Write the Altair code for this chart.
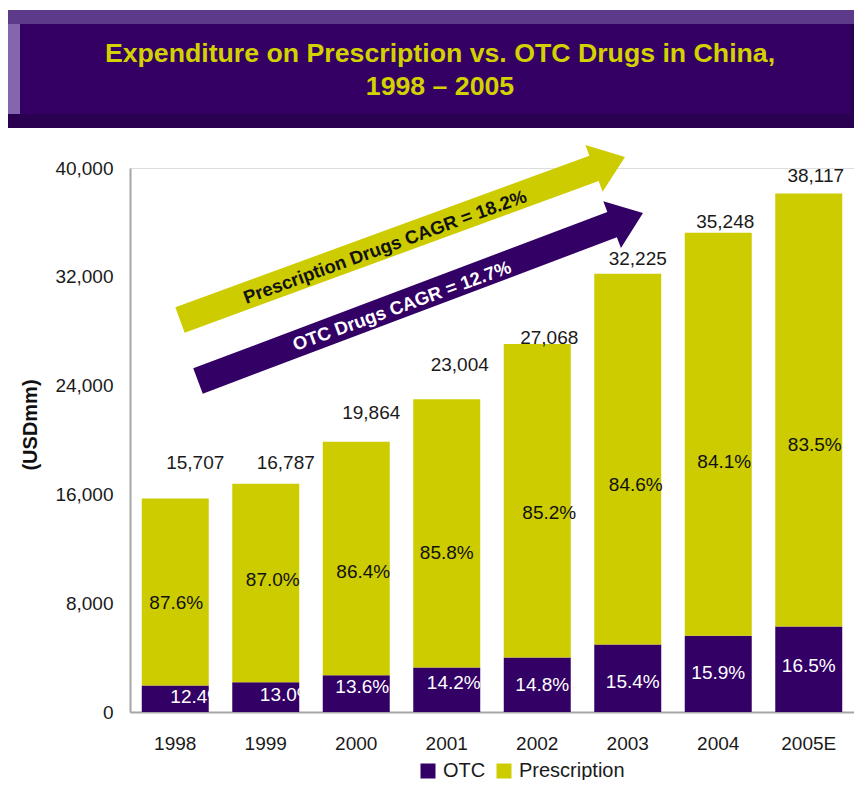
import altair as alt
import pandas as pd
import math

# ---------------- data ----------------
years = ["1998", "1999", "2000", "2001", "2002", "2003", "2004", "2005E"]
totals = [15707, 16787, 19864, 23004, 27068, 32225, 35248, 38117]
otc_share = [12.4, 13.0, 13.6, 14.2, 14.8, 15.4, 15.9, 16.5]
presc_share = [87.6, 87.0, 86.4, 85.8, 85.2, 84.6, 84.1, 83.5]
series_names = ["OTC", "Prescription"]
y_ticks = [0, 8000, 16000, 24000, 32000, 40000]
title_lines = ["Expenditure on Prescription vs. OTC Drugs in China,", "1998 \u2013 2005"]
arrow_texts = ["Prescription Drugs CAGR = 18.2%", "OTC Drugs CAGR = 12.7%"]

# ---------------- style (label nudges in px) ----------------
total_dx = [20, 20, 15, 13, 12, 10, 7, 7]
total_dy = [-35, -21, -29, -34, -6, -15, -11, -18]
presc_dx = [1, 7, 7, 0, 12, 8, 6, 6]
presc_dy = [11, -3, 13, 20, 12, 26, 28, 35]
otc_dx = [22, 21, 6, 7, 5, 5, 0, 0]
otc_dy = [-2, -2, -7, -7, 0, 4, -1, -3]

PURPLE = "#330066"
YELLOW = "#CCCC00"
FONT = "Liberation Sans, Arial, sans-serif"
W, H = 724, 544

otc_vals = [t * s / 100 for t, s in zip(totals, otc_share)]
presc_vals = [t - o for t, o in zip(totals, otc_vals)]

bars = pd.DataFrame(
    [{"year": y, "series": "OTC", "value": o, "order": 0} for y, o in zip(years, otc_vals)]
    + [{"year": y, "series": "Prescription", "value": p, "order": 1} for y, p in zip(years, presc_vals)]
)
labels = pd.DataFrame({
    "year": years,
    "total": totals,
    "otc_mid": [o / 2 for o in otc_vals],
    "presc_mid": [o + p / 2 for o, p in zip(otc_vals, presc_vals)],
    "total_label": [f"{t:,}" for t in totals],
    "otc_label": [f"{s:.1f}%" for s in otc_share],
    "presc_label": [f"{s:.1f}%" for s in presc_share],
})
one = pd.DataFrame({"k": [0]})

xenc = alt.X("year:N", sort=years)

bar_layer = alt.Chart(bars).mark_bar().encode(
    x=alt.X("year:N", sort=years,
            scale=alt.Scale(paddingInner=0.26, paddingOuter=0.13, round=False),
            axis=alt.Axis(title=None, labelAngle=0, labelFontSize=19, labelFont=FONT,
                          labelColor="#1a1a1a", domainColor="#A6A6A6", domainWidth=2,
                          ticks=False, tickSize=0, labelPadding=22)),
    y=alt.Y("value:Q", stack="zero",
            scale=alt.Scale(domain=[0, 40000], nice=False),
            axis=alt.Axis(title=None, values=y_ticks, format=",d", labelFontSize=19,
                          labelFont=FONT, labelColor="#1a1a1a", domainColor="#A6A6A6",
                          domainWidth=2, ticks=False, tickSize=0, grid=False, labelPadding=17)),
    color=alt.Color("series:N", scale=alt.Scale(domain=series_names, range=[PURPLE, YELLOW]),
                    legend=alt.Legend(title=None, orient="none", legendX=288, legendY=593,
                                      direction="horizontal", symbolType="square", symbolSize=225,
                                      symbolStrokeWidth=0, labelFontSize=20, labelFont=FONT,
                                      labelColor="#1a1a1a", labelOffset=5, columnPadding=8,
                                      padding=0)),
    order=alt.Order("order:Q"),
)

layers = []

# title banner
def rect(x1, x2, y1, y2, color):
    return alt.Chart(one).mark_rect(color=color).encode(
        x=alt.value(x1 - 130), x2=alt.value(x2 - 130),
        y=alt.value(y1 - 168), y2=alt.value(y2 - 168))

layers += [
    rect(6, 862, 10, 128, "#2A0050"),
    rect(6, 862, 10, 24, "#5E3A8A"),
    rect(6, 20, 24, 114, "#8466AE"),
    rect(20, 850, 24, 114, "#350063"),
    rect(6, 8, 128, 800, "#55338A"),   # left frame line
]
for line, yb in zip(title_lines, [62, 95]):
    layers.append(alt.Chart(one).mark_text(
        text=line, font=FONT, fontSize=26.7, fontWeight="bold", color="#D2D200",
        align="center", baseline="alphabetic").encode(
        x=alt.value(440 - 130), y=alt.value(yb - 168)))

layers.append(bar_layer)

# arrows (custom symbol paths)
def arrow_path(L, shaft_w, head_l, head_w):
    r = L / 2.0
    hw = shaft_w / 2 / r
    hh = head_w / 2 / r
    hx = 1 - head_l / r
    return (f"M -1 {-hw:.4f} L {hx:.4f} {-hw:.4f} L {hx:.4f} {-hh:.4f} L 1 0 "
            f"L {hx:.4f} {hh:.4f} L {hx:.4f} {hw:.4f} L -1 {hw:.4f} Z")

arrows = [
    ((180, 320), (625, 157), YELLOW),
    ((198, 381), (643, 213), PURPLE),
]
for (tx, ty), (hx_, hy_), col in arrows:
    L = math.hypot(hx_ - tx, hy_ - ty)
    ang = math.degrees(math.atan2(hy_ - ty, hx_ - tx)) % 360
    cx, cy = (tx + hx_) / 2, (ty + hy_) / 2
    layers.append(alt.Chart(one).mark_point(
        shape=arrow_path(L, 27, 33, 50), filled=True, opacity=1, strokeWidth=0,
        color=col, size=L * L, angle=ang).encode(
        x=alt.value(cx - 130), y=alt.value(cy - 168)))

for txt, (px, py), col in zip(arrow_texts, [(385, 247), (402, 306)], ["#111111", "#FFFFFF"]):
    layers.append(alt.Chart(one).mark_text(
        text=txt, font=FONT, fontSize=18.5, fontWeight="bold", color=col,
        angle=340, align="center", baseline="middle").encode(
        x=alt.value(px - 130), y=alt.value(py - 168)))

# value labels
for i, yr in enumerate(years):
    base = alt.Chart(labels).transform_filter(alt.datum.year == yr)
    layers.append(base.mark_text(font=FONT, fontSize=19, color="#1a1a1a", baseline="middle",
                                 dx=total_dx[i], dy=total_dy[i]).encode(
        x=xenc, y="total:Q", text="total_label:N"))
    layers.append(base.mark_text(font=FONT, fontSize=19, color="#111111", baseline="middle",
                                 dx=presc_dx[i], dy=presc_dy[i]).encode(
        x=xenc, y="presc_mid:Q", text="presc_label:N"))
    layers.append(base.mark_text(font=FONT, fontSize=19, color="#FFFFFF", baseline="middle",
                                 dx=otc_dx[i], dy=otc_dy[i]).encode(
        x=xenc, y="otc_mid:Q", text="otc_label:N"))

# y axis title
layers.append(alt.Chart(one).mark_text(
    text="(USDmm)", font=FONT, fontSize=20, fontWeight="bold", color="#111111",
    angle=270, align="center", baseline="middle").encode(
    x=alt.value(31 - 130), y=alt.value(425 - 168)))

chart = alt.layer(*layers).properties(
    width=W, height=H,
    padding={"left": 122, "top": 160, "right": 0, "bottom": 68},
    autosize="none",
).configure_view(stroke=None).configure(background="white")

chart.save("out.html", embed_options={"renderer": "svg", "actions": False})
